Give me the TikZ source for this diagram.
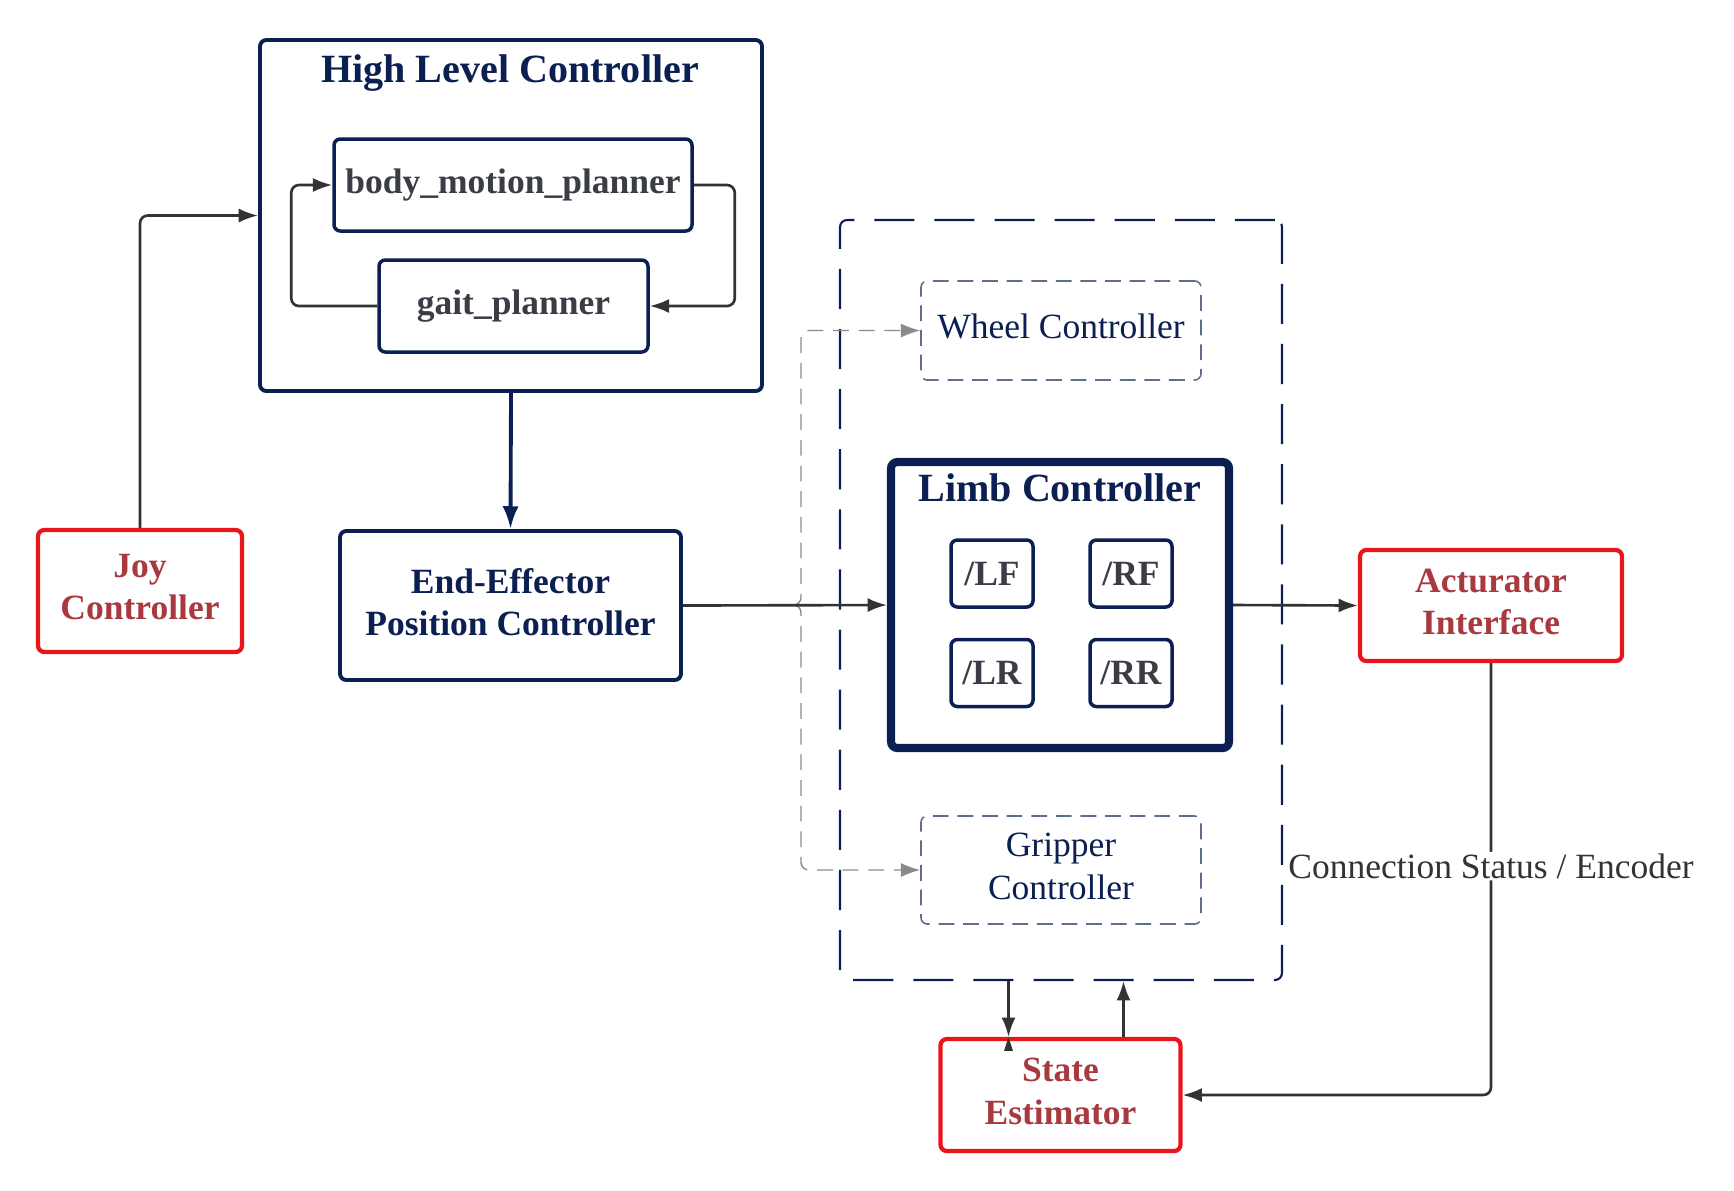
\documentclass[tikz,border=0pt]{standalone}
\usepackage{fontspec}
\setmainfont{Liberation Serif}
\usetikzlibrary{arrows.meta}
\definecolor{navy}{HTML}{0B1F52}
\definecolor{ink}{HTML}{3A3D45}
\definecolor{wire}{HTML}{333333}
\definecolor{alert}{HTML}{E8161B}
\definecolor{brick}{HTML}{A83A3F}
\definecolor{haze}{HTML}{5F6E8E}
\definecolor{ghost}{HTML}{8A8A8A}
\begin{document}
\begin{tikzpicture}[x=0.1mm, y=-0.1mm,
    >={Latex[length=5.5pt,width=4pt]},
    big/.style={font=\fontsize{11.4}{13}\selectfont\bfseries, text=navy},
    box/.style={draw=navy, line width=1.1pt, rounded corners=1.8pt, inner sep=0pt, align=center},
    plan/.style={box, line width=1pt, font=\fontsize{10.1}{12}\selectfont\bfseries, text=ink},
    blue/.style={box, font=\fontsize{10.1}{12}\selectfont\bfseries, text=navy, text depth=2.2pt},
    redbox/.style={box, draw=alert, line width=1.2pt, font=\fontsize{10.1}{12}\selectfont\bfseries, text=brick, text depth=2.2pt},
    ghostbox/.style={draw=haze, line width=0.45pt, dash pattern=on 4.5pt off 2.5pt, rounded corners=1.8pt,
        inner sep=0pt, align=center, font=\fontsize{10.1}{12.2}\selectfont, text=navy, text depth=2.2pt},
    line/.style={draw=wire, line width=0.75pt}]
    \useasboundingbox (0,0) rectangle (1734,1190);

    % high level part
    \node[box, minimum width=50.2mm, minimum height=35.1mm] (hlc) at (511,215.5) {};
    \node[big, anchor=base] (hlctitle) at (510,82) {High Level Controller};
    \node[plan, minimum width=35.8mm, minimum height=9.2mm] (bmp) at (513,185) {body\_motion\_planner};
    \node[plan, minimum width=26.9mm, minimum height=9.2mm] (gait) at (513.5,306) {gait\_planner};
    \draw[line, ->, rounded corners=2.2pt] (gait.west) -- ([xshift=-8.6mm]gait.west) |- (bmp.west);
    \draw[line, ->, rounded corners=2.2pt] (bmp.east) -- ([xshift=4.1mm]bmp.east) |- (gait.east);

    \node[redbox, minimum width=20.4mm, minimum height=12.2mm] (joy) at (140,591) {Joy\\Controller};
    \node[blue, minimum width=34.1mm, minimum height=14.9mm] (eepc) at (510.5,605.5) {End-Effector\\Position Controller};
    \draw[line, ->, rounded corners=2.2pt] (joy.north) |- (hlc.west);
    \draw[draw=navy, line width=1.1pt, -{Latex[length=6.5pt,width=4.6pt]}] (hlc.south) -- (eepc.north);

    % limb unit
    \node[draw=navy, line width=0.6pt, dash pattern=on 11.4pt off 5.7pt, rounded corners=2pt,
        minimum width=44.2mm, minimum height=76mm] (unit) at (1061,600) {};
    \node[ghostbox, minimum width=28mm, minimum height=9.9mm] (wheel) at (1061,330.5) {Wheel Controller};
    \node[ghostbox, minimum width=28mm, minimum height=10.8mm] (grip) at (1061,870) {Gripper\\Controller};
    \node[box, line width=2.3pt, minimum width=33.8mm, minimum height=28.6mm] (limb) at (1060,605) {};
    \node[big, anchor=base] (limbtitle) at (1060,501) {Limb Controller};
    \node[plan, minimum width=8.2mm, minimum height=6.7mm] (lf) at (992,573.5) {/LF};
    \node[plan, minimum width=8.2mm, minimum height=6.7mm] (rf) at (1131,573.5) {/RF};
    \node[plan, minimum width=8.2mm, minimum height=6.7mm] (lr) at (992,673) {/LR};
    \node[plan, minimum width=8.2mm, minimum height=6.7mm] (rr) at (1131,673) {/RR};

    \node[redbox, minimum width=26.2mm, minimum height=11.1mm] (act) at (1491,605.5) {Acturator\\Interface};
    \node[redbox, minimum width=24mm, minimum height=11.2mm] (est) at (1060.5,1095) {State\\Estimator};

    \coordinate (fork) at (801,605);
    \draw[draw=ghost, line width=0.4pt, dash pattern=on 4.5pt off 2.8pt, ->, rounded corners=2.2pt]
        ([xshift=-0.8mm]fork) -| (fork |- wheel.west) -- (wheel.west);
    \draw[draw=ghost, line width=0.4pt, dash pattern=on 4.5pt off 2.8pt, ->, rounded corners=2.2pt]
        ([xshift=-0.8mm]fork) -| (fork |- grip.west) -- (grip.west);
    \draw[line, ->] (eepc.east) -- (limb.west);
    \draw[line, ->] (limb.east) -- (act.west);

    \draw[line, ->, rounded corners=2.2pt] (act.south) |- (est.east)
        node[pos=0.235, fill=white, inner sep=0.5pt, text=wire, font=\fontsize{10.1}{12.4}\selectfont] (enc) {Connection Status / Encoder};
    \draw[line, ->] ([xshift=-5.2mm]est.north |- unit.south) -- ([xshift=-5.2mm]est.north);
    \fill[wire] ([xshift=-5.2mm]est.north) ++(-4.5,14) -- ++(4.5,-14) -- ++(4.5,14) -- cycle;
    \draw[line, ->] ([xshift=6.3mm]est.north) -- ([xshift=6.3mm]est.north |- unit.south);
\end{tikzpicture}
\end{document}
